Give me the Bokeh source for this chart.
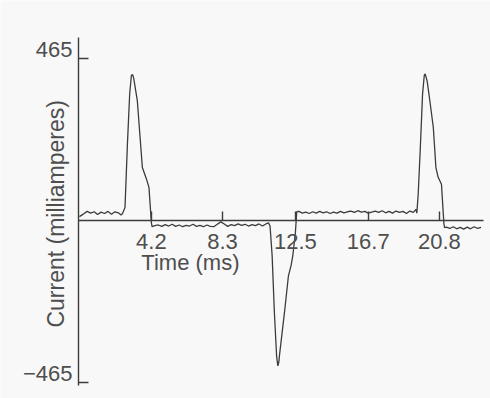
import math
from bokeh.plotting import figure
from bokeh.models import (ColumnDataSource, FixedTicker, LabelSet, Label, Range1d)
from bokeh.core.properties import value
from bokeh.embed import file_html
from bokeh.resources import INLINE

# ---- data ----
time_ms = [
    0.05, 0.3, 0.5, 0.7, 0.9, 1.1, 1.3, 1.5, 1.7, 1.9, 2.1, 2.3, 2.45,
    2.53, 2.68, 2.82, 2.95, 3.05, 3.12, 3.18, 3.39, 3.68, 3.91, 4.06, 4.20, 4.24,
    4.4, 4.6, 4.8, 5.0, 5.2, 5.4, 5.6, 5.8, 6.0, 6.2, 6.4, 6.6, 6.8, 7.0, 7.2,
    7.4, 7.6, 7.8, 8.0, 8.2, 8.4, 8.6, 8.8, 9.0, 9.2, 9.4, 9.6, 9.8, 10.0, 10.2,
    10.4, 10.6, 10.8, 10.95,
    11.04, 11.16, 11.29, 11.42, 11.49, 11.55, 11.58, 11.87, 12.10, 12.25, 12.35,
    12.50, 12.58,
    12.7, 12.9, 13.1, 13.3, 13.5, 13.7, 13.9, 14.1, 14.3, 14.5, 14.7, 14.9, 15.1,
    15.3, 15.5, 15.7, 15.9, 16.1, 16.3, 16.5, 16.7, 16.9, 17.1, 17.3, 17.5, 17.7,
    17.9, 18.1, 18.3, 18.5, 18.7, 18.9, 19.1, 19.3, 19.45,
    19.50, 19.58, 19.71, 19.83, 19.93, 19.98, 20.05, 20.10, 20.25, 20.45, 20.60,
    20.73, 20.92, 21.06, 21.10,
    21.2, 21.4, 21.6, 21.8, 22.0, 22.2, 22.4, 22.6, 22.8, 23.0, 23.2,
]
current_ma = [
    12, 20, 27, 22, 26, 18, 25, 21, 27, 19, 26, 23, 17,
    20, 38, 221, 365, 418, 420, 410, 345, 153, 121, 96, -5, -17,
    -14, -12, -16, -11, -15, -10, -16, -12, -17, -13, -15, -10, -16, -13, -17,
    -12, -16, -17, -10, -3, -9, -16, -11, -14, -9, -13, -10, -15, -11, -14,
    -9, -15, -9, -6,
    -15, -100, -264, -390, -417, -405, -388, -264, -158, -129, -101,
    -34, 26,
    27, 22, 25, 21, 26, 22, 27, 23, 26, 21, 25, 22, 27,
    23, 26, 28, 24, 29, 25, 27, 22, 25, 28, 24, 29, 23,
    27, 22, 28, 24, 27, 21, 28, 24, 33,
    22, 77, 220, 364, 418, 422, 410, 400, 345, 268, 153,
    125, 105, -8, -20,
    -18, -22, -17, -23, -19, -24, -18, -23, -17, -22, -19,
]

x_ticks = [4.2, 8.3, 12.5, 16.7, 20.8]
x_tick_labels = ["4.2", "8.3", "12.5", "16.7", "20.8"]
y_ticks = [465, -465]
y_tick_labels = ["465", "\u2212465"]

x_title = "Time (ms)"
y_title = "Current (milliamperes)"

BG = "#f8f8f8"
INK = "#3c3c3c"
TXT = "#4e4e4e"
FONT = "Liberation Sans"

p = figure(width=490, height=398, output_backend="svg", toolbar_location=None,
           x_range=Range1d(-4.496, 23.746), y_range=Range1d(-510.5, 632.9),
           min_border_left=0, min_border_right=0, min_border_top=0,
           min_border_bottom=0)
p.background_fill_color = BG
p.border_fill_color = BG
p.outline_line_color = None
p.grid.visible = False

# x axis crossing at zero current
xa = p.xaxis[0]
xa.fixed_location = 0
xa.bounds = (0, 23.33)
xa.ticker = FixedTicker(ticks=x_ticks)
xa.major_label_overrides = {t: "" for t in x_ticks}
xa.major_tick_in = 9
xa.major_tick_out = 0
xa.minor_tick_line_color = None
xa.axis_line_color = INK
xa.axis_line_width = 1.4
xa.major_tick_line_color = INK
xa.major_tick_line_width = 1.4

# y axis at time zero
ya = p.yaxis[0]
ya.fixed_location = 0
ya.bounds = (-473, 527)
ya.ticker = FixedTicker(ticks=y_ticks)
ya.major_label_overrides = {t: "" for t in y_ticks}
ya.major_tick_in = 10
ya.major_tick_out = 0
ya.minor_tick_line_color = None
ya.axis_line_color = INK
ya.axis_line_width = 1.4
ya.major_tick_line_color = INK
ya.major_tick_line_width = 1.4

p.line(time_ms, current_ma, line_color=INK, line_width=1.3)

xsrc = ColumnDataSource(dict(x=x_ticks, y=[0] * len(x_ticks), t=x_tick_labels))
p.add_layout(LabelSet(x="x", y="y", text="t", source=xsrc, text_align="center",
                      text_baseline="alphabetic", y_offset=-28,
                      text_font=value(FONT), text_font_size=value("22px"),
                      text_color=value(TXT)))

ysrc = ColumnDataSource(dict(x=[0] * len(y_ticks), y=y_ticks, t=y_tick_labels))
p.add_layout(LabelSet(x="x", y="y", text="t", source=ysrc, text_align="right",
                      text_baseline="alphabetic", x_offset=-6, y_offset=2,
                      text_font=value(FONT), text_font_size=value("22px"),
                      text_color=value(TXT)))

p.add_layout(Label(x=6.45, y=0, y_offset=-42, text=x_title, text_align="center",
                   text_baseline="middle", text_font=FONT, text_font_size="22px",
                   text_color=TXT))
p.add_layout(Label(x=0, y=20, x_offset=-23, text=y_title, angle=math.pi / 2,
                   text_align="center", text_baseline="middle", text_font=FONT,
                   text_font_size="23px", text_color=TXT))

open("out.html", "w").write(file_html(p, INLINE))
